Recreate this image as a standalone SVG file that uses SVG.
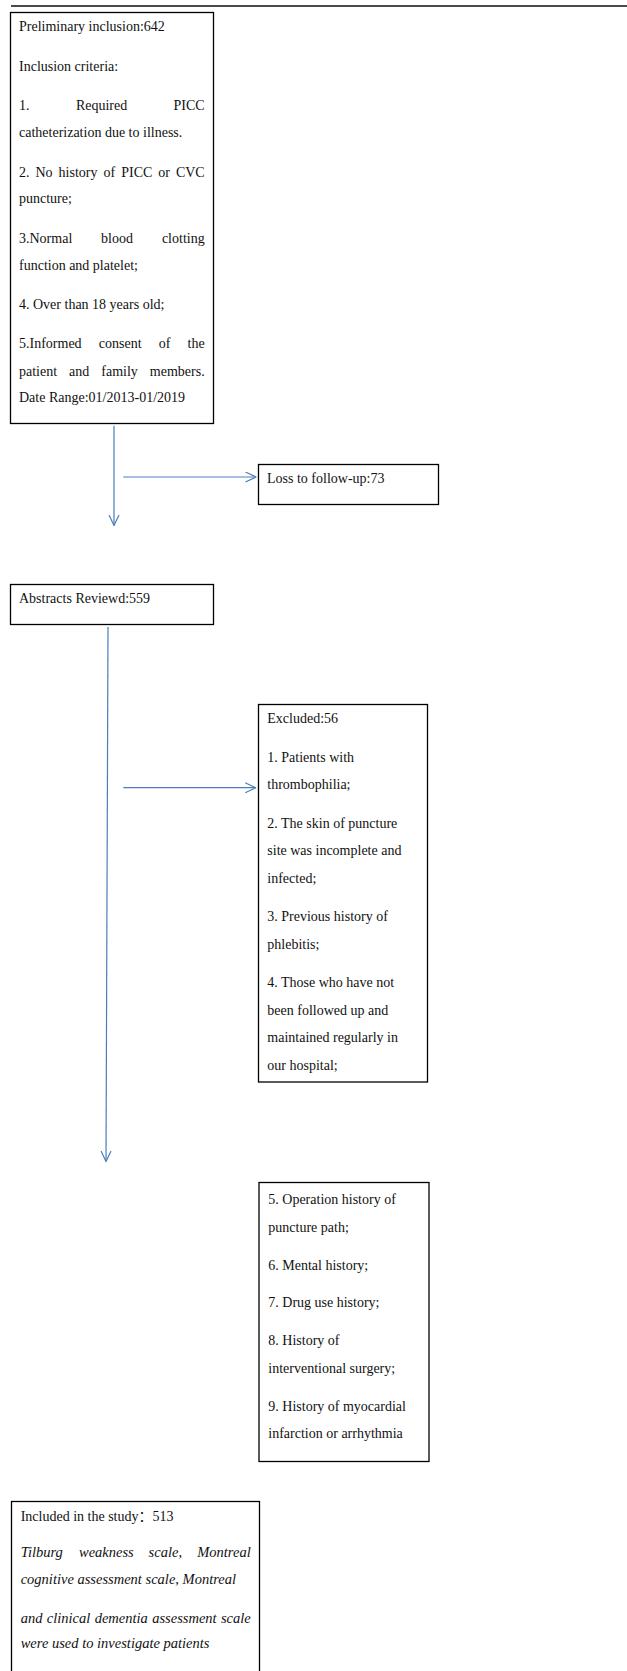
<svg xmlns="http://www.w3.org/2000/svg" width="627" height="1671" viewBox="0 0 627 1671">
<style>
  .box { fill: #ffffff; stroke: #000000; stroke-width: 1.3; }
  .t { font-family: "Liberation Serif", "Times New Roman", "Noto Sans CJK SC", serif; font-size: 14px; fill: #111111; }
  .it { font-family: "Liberation Serif", "Times New Roman", serif; font-size: 14.5px; font-style: italic; fill: #111111; }
  .conn { stroke: #4a7ebb; stroke-width: 1.2; fill: none; }
</style>
<defs>
  <marker id="arr" markerUnits="userSpaceOnUse" markerWidth="14" markerHeight="14" refX="11" refY="5.5" orient="auto">
    <path d="M0.5,0.5 L11,5.5 L0.5,10.5" fill="none" stroke="#4a7ebb" stroke-width="1.2" stroke-linejoin="round"/>
  </marker>
</defs>
<rect x="0" y="0" width="627" height="1671" fill="#ffffff"/>
<line x1="11" y1="6" x2="627" y2="6" stroke="#111111" stroke-width="1.6"/>

<g id="node-preliminary">
  <rect class="box" x="10.5" y="12.5" width="203" height="411"/>
  <text class="t" x="19" y="30.7">Preliminary inclusion:642</text>
  <text class="t" x="19" y="71">Inclusion criteria:</text>
  <text class="t" y="110"><tspan x="19">1.</tspan><tspan x="75.9">Required</tspan><tspan x="204.7" text-anchor="end">PICC</tspan></text>
  <text class="t" x="19" y="137">catheterization due to illness.</text>
  <text class="t" y="176.7"><tspan x="19">2.</tspan><tspan x="35.5">No</tspan><tspan x="58.6">history</tspan><tspan x="103.5">of</tspan><tspan x="121.2">PICC</tspan><tspan x="158.3">or</tspan><tspan x="204.7" text-anchor="end">CVC</tspan></text>
  <text class="t" x="19" y="203.3">puncture;</text>
  <text class="t" y="242.7"><tspan x="19">3.Normal</tspan><tspan x="101.1">blood</tspan><tspan x="204.7" text-anchor="end">clotting</tspan></text>
  <text class="t" x="19" y="270">function and platelet;</text>
  <text class="t" x="19" y="309">4. Over than 18 years old;</text>
  <text class="t" y="348.3"><tspan x="19">5.Informed</tspan><tspan x="98.8">consent</tspan><tspan x="158.8">of</tspan><tspan x="204.7" text-anchor="end">the</tspan></text>
  <text class="t" y="375.7"><tspan x="19">patient</tspan><tspan x="69.1">and</tspan><tspan x="101.3">family</tspan><tspan x="204.7" text-anchor="end">members.</tspan></text>
  <text class="t" x="19" y="401.7">Date Range:01/2013-01/2019</text>
</g>

<g id="node-loss">
  <rect class="box" x="258.5" y="464.5" width="180" height="40"/>
  <text class="t" x="267" y="482.7">Loss to follow-up:73</text>
</g>

<g id="node-abstracts">
  <rect class="box" x="10.5" y="584.5" width="203" height="40"/>
  <text class="t" x="19" y="602.7">Abstracts Reviewd:559</text>
</g>

<g id="node-excluded">
  <rect class="box" x="258.5" y="704.5" width="169" height="377.5"/>
  <text class="t" x="267.3" y="723">Excluded:56</text>
  <text class="t" x="267.3" y="761.5">1. Patients with</text>
  <text class="t" x="267.3" y="789">thrombophilia;</text>
  <text class="t" x="267.3" y="827.5">2. The skin of puncture</text>
  <text class="t" x="267.3" y="855">site was incomplete and</text>
  <text class="t" x="267.3" y="882.5">infected;</text>
  <text class="t" x="267.3" y="921">3. Previous history of</text>
  <text class="t" x="267.3" y="948.5">phlebitis;</text>
  <text class="t" x="267.3" y="987">4. Those who have not</text>
  <text class="t" x="267.3" y="1014.5">been followed up and</text>
  <text class="t" x="267.3" y="1042">maintained regularly in</text>
  <text class="t" x="267.3" y="1069.5">our hospital;</text>
</g>

<g id="node-excluded-cont">
  <rect class="box" x="259" y="1182.5" width="170" height="279"/>
  <text class="t" x="268.3" y="1203.5">5. Operation history of</text>
  <text class="t" x="268.3" y="1231.5">puncture path;</text>
  <text class="t" x="268.3" y="1270">6. Mental history;</text>
  <text class="t" x="268.3" y="1307">7. Drug use history;</text>
  <text class="t" x="268.3" y="1345">8. History of</text>
  <text class="t" x="268.3" y="1372.5">interventional surgery;</text>
  <text class="t" x="268.3" y="1410.5">9. History of myocardial</text>
  <text class="t" x="268.3" y="1438">infarction or arrhythmia</text>
</g>

<g id="node-included">
  <rect class="box" x="11.5" y="1501.5" width="248" height="190"/>
  <text class="t" x="20.7" y="1520.7">Included in the study：513</text>
  <text class="it" y="1557.3"><tspan x="20.7">Tilburg</tspan><tspan x="79">weakness</tspan><tspan x="148.6">scale,</tspan><tspan x="250.7" text-anchor="end">Montreal</tspan></text>
  <text class="it" x="20.7" y="1584">cognitive assessment scale, Montreal</text>
  <text class="it" y="1622.7"><tspan x="20.7">and</tspan><tspan x="46.8">clinical</tspan><tspan x="94.7">dementia</tspan><tspan x="152.2">assessment</tspan><tspan x="250.7" text-anchor="end">scale</tspan></text>
  <text class="it" x="20.7" y="1648.3">were used to investigate patients</text>
</g>

<g id="connectors">
  <line class="conn" x1="114" y1="425.7" x2="114" y2="525.5" marker-end="url(#arr)"/>
  <line class="conn" x1="123.3" y1="477" x2="256" y2="477" marker-end="url(#arr)"/>
  <line class="conn" x1="108" y1="627" x2="106" y2="1161.5" marker-end="url(#arr)"/>
  <line class="conn" x1="123.3" y1="787.7" x2="255.7" y2="787.7" marker-end="url(#arr)"/>
</g>
</svg>
